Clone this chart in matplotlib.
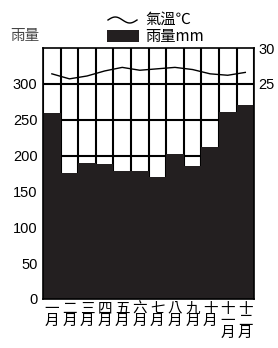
import numpy as np
import matplotlib.pyplot as plt
from matplotlib.patches import Rectangle

# ======================== 数据 ==========================
months = ['一\n月', '二\n月', '三\n月', '四\n月', '五\n月', '六\n月',
          '七\n月', '八\n月', '九\n月', '十\n月', '十\n一\n月', '十\n二\n月']
rain = [260, 175, 189, 188, 178, 178, 170, 202, 185, 212, 261, 270]
temp = [26.4, 25.7, 26.1, 26.8, 27.3, 26.9, 27.1, 27.3, 27.0, 26.4, 26.2, 26.6]
rain_ticks = [0, 50, 100, 150, 200, 250, 300]
temp_ticks = [25, 30]

plt.rcParams['font.family'] = ['Liberation Sans', 'Noto Sans CJK TC', 'DejaVu Sans']
cjk = ['Noto Sans CJK TC', 'DejaVu Sans']
dark = '#231f20'

W, H = 278, 348
fig = plt.figure(figsize=(W / 100, H / 100), dpi=100)
ax = fig.add_axes([0.155, 0.141, 0.759, 0.721])
x = np.arange(len(months))

# 网格（柱子盖在上面）
for v in [50, 100, 150, 200, 250, 300]:
    ax.axhline(v, color='black', lw=1.5, zorder=1)
for b in np.arange(-0.5, 12, 1):
    ax.axvline(b, color='black', lw=1.5, zorder=1)

ax.bar(x, rain, width=1.0, color=dark, zorder=2)
ax.set_xlim(-0.5, 11.5)
ax.set_ylim(0, 350)
ax.set_yticks(rain_ticks)
ax.set_xticks(x)
ax.set_xticklabels(months, va='top', linespacing=0.85, family=cjk, fontsize=12)
ax.tick_params(length=0, labelsize=10.5, pad=4)
ax.tick_params(axis='x', pad=2)
for s in ax.spines.values():
    s.set_linewidth(1.2)
    s.set_zorder(3)

ax2 = ax.twinx()
ax2.plot(x, temp, color='black', lw=1.0, zorder=4)
ax2.set_ylim(-5, 30)
ax2.set_yticks(temp_ticks)
ax2.tick_params(length=0, labelsize=10.5, pad=3)
for s in ax2.spines.values():
    s.set_visible(False)

fig.text(10 / W, 1 - 36 / H, '雨量', fontsize=10.5, color='#444444',
         family=cjk, va='center')

# ---------------- 图例（手动） ----------------
wx = np.linspace(108, 137, 40)
wy = 20 - 3 * np.sin((wx - 108) / 29 * 2 * np.pi)
fig.add_artist(plt.Line2D(wx / W, 1 - wy / H, color='black', lw=1.0))
fig.text(145 / W, 1 - 19 / H, '氣溫℃', fontsize=11, family=cjk, va='center')
fig.add_artist(Rectangle((107 / W, 1 - 42 / H), 32 / W, 12 / H,
                         facecolor=dark, edgecolor='none'))
fig.text(145 / W, 1 - 37 / H, '雨量mm', fontsize=11, family=cjk, va='center')

fig.savefig('out.png', dpi=100)
